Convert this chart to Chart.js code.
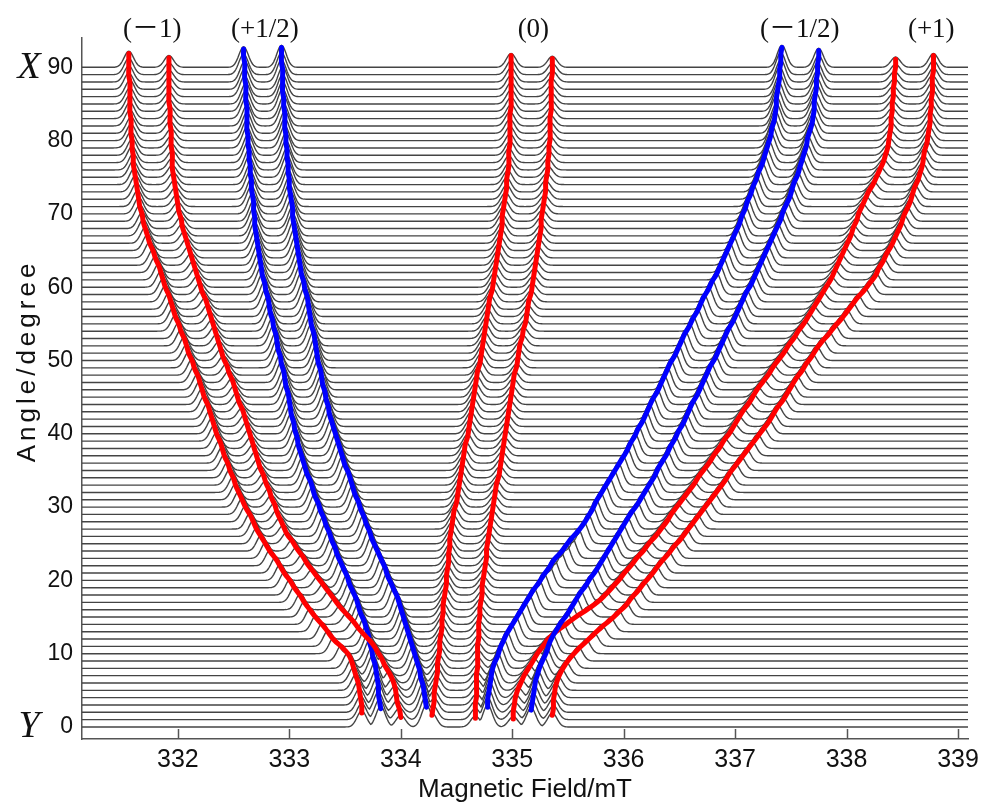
<!DOCTYPE html>
<html>
<head>
<meta charset="utf-8">
<title>Angular dependence of EPR spectra</title>
<script src="https://cdn.jsdelivr.net/npm/chart.js@4.4.1/dist/chart.umd.min.js"></script>
<style>
  html, body { margin: 0; padding: 0; background: #fff; }
  #wrap { width: 985px; height: 805px; }
</style>
</head>
<body>
<div id="wrap"><canvas id="chart" width="985" height="805"></canvas></div>
<script>
// axis ticks
const fieldTicks = [332, 333, 334, 335, 336, 337, 338, 339];
const angleTicks = [0, 10, 20, 30, 40, 50, 60, 70, 80, 90];

// one spectrum per degree
const angles = Array.from({ length: 91 }, (_, i) => i);

// peak positions (mT) for each angle 0..90
const posM1a = [
  333.65,333.65,333.64,333.63,333.62,333.60,333.58,333.56,333.53,333.47,
  333.40,333.35,333.30,333.24,333.19,333.14,333.10,333.05,333.01,332.96,
  332.92,332.88,332.83,332.79,332.75,332.71,332.68,332.65,332.61,332.58,
  332.55,332.52,332.50,332.47,332.45,332.42,332.40,332.38,332.35,332.33,
  332.31,332.29,332.27,332.24,332.22,332.20,332.18,332.15,332.13,332.10,
  332.08,332.06,332.03,332.01,331.98,331.96,331.94,331.92,331.89,331.87,
  331.85,331.83,331.80,331.78,331.75,331.73,331.71,331.69,331.68,331.66,
  331.65,331.64,331.63,331.62,331.61,331.60,331.60,331.59,331.59,331.58,
  331.58,331.58,331.57,331.57,331.57,331.57,331.57,331.56,331.56,331.56,
  331.56];
const posM1b = [
  334.00,333.99,333.97,333.96,333.95,333.93,333.90,333.86,333.83,333.79,
  333.75,333.69,333.63,333.58,333.52,333.46,333.41,333.36,333.31,333.26,
  333.21,333.16,333.12,333.07,333.03,332.98,332.95,332.92,332.89,332.87,
  332.84,332.82,332.79,332.77,332.74,332.72,332.70,332.68,332.66,332.64,
  332.62,332.60,332.58,332.55,332.53,332.51,332.49,332.46,332.44,332.41,
  332.39,332.37,332.35,332.33,332.31,332.29,332.27,332.25,332.22,332.20,
  332.18,332.16,332.14,332.12,332.10,332.08,332.06,332.04,332.03,332.01,
  332.00,331.99,331.98,331.97,331.96,331.95,331.95,331.95,331.94,331.94,
  331.94,331.93,331.93,331.93,331.92,331.92,331.92,331.92,331.92,331.92,
  331.92];
const posP12a = [
  333.82,333.81,333.80,333.80,333.79,333.78,333.77,333.75,333.74,333.72,
  333.71,333.69,333.67,333.64,333.62,333.60,333.57,333.54,333.52,333.49,
  333.46,333.43,333.41,333.38,333.36,333.33,333.31,333.28,333.26,333.23,
  333.21,333.19,333.16,333.14,333.12,333.10,333.08,333.07,333.05,333.04,
  333.02,333.01,333.00,332.99,332.97,332.96,332.95,332.93,332.92,332.90,
  332.89,332.88,332.86,332.85,332.83,332.82,332.81,332.79,332.78,332.76,
  332.75,332.74,332.73,332.72,332.71,332.70,332.69,332.69,332.68,332.68,
  332.67,332.66,332.66,332.65,332.65,332.64,332.64,332.63,332.63,332.62,
  332.62,332.62,332.62,332.61,332.61,332.61,332.60,332.60,332.60,332.59,
  332.59];
const posP12b = [
  334.23,334.22,334.21,334.20,334.18,334.17,334.15,334.13,334.11,334.09,
  334.07,334.05,334.03,334.01,333.99,333.97,333.94,333.91,333.88,333.86,
  333.83,333.80,333.77,333.74,333.72,333.69,333.67,333.64,333.62,333.59,
  333.57,333.55,333.53,333.50,333.48,333.46,333.44,333.42,333.40,333.38,
  333.36,333.35,333.33,333.32,333.30,333.29,333.28,333.26,333.25,333.24,
  333.23,333.22,333.20,333.19,333.18,333.17,333.16,333.14,333.13,333.11,
  333.10,333.09,333.08,333.07,333.06,333.05,333.04,333.03,333.03,333.02,
  333.01,333.00,333.00,332.99,332.99,332.98,332.98,332.97,332.97,332.96,
  332.96,332.96,332.95,332.95,332.94,332.94,332.94,332.94,332.93,332.93,
  332.93];
const pos0a = [
  334.28,334.29,334.30,334.30,334.31,334.32,334.33,334.33,334.34,334.35,
  334.35,334.36,334.37,334.37,334.38,334.38,334.39,334.40,334.41,334.41,
  334.42,334.43,334.43,334.44,334.44,334.45,334.46,334.47,334.48,334.50,
  334.51,334.52,334.53,334.54,334.55,334.56,334.57,334.58,334.60,334.61,
  334.62,334.63,334.64,334.65,334.66,334.67,334.68,334.69,334.71,334.72,
  334.73,334.74,334.75,334.76,334.77,334.78,334.79,334.80,334.82,334.83,
  334.84,334.85,334.86,334.87,334.88,334.89,334.90,334.91,334.91,334.92,
  334.93,334.94,334.95,334.95,334.96,334.97,334.97,334.97,334.98,334.98,
  334.98,334.98,334.98,334.99,334.99,334.99,334.99,334.99,334.99,334.99,
  334.99];
const pos0b = [
  334.67,334.67,334.67,334.68,334.68,334.68,334.68,334.69,334.69,334.69,
  334.69,334.70,334.70,334.70,334.71,334.71,334.72,334.73,334.73,334.74,
  334.75,334.76,334.77,334.77,334.78,334.79,334.80,334.81,334.82,334.83,
  334.84,334.85,334.86,334.88,334.89,334.90,334.91,334.92,334.93,334.94,
  334.95,334.96,334.97,334.98,334.99,335.00,335.01,335.02,335.04,335.05,
  335.06,335.07,335.09,335.10,335.12,335.13,335.14,335.15,335.17,335.18,
  335.19,335.20,335.21,335.22,335.23,335.24,335.25,335.26,335.26,335.27,
  335.28,335.29,335.30,335.30,335.31,335.32,335.32,335.33,335.33,335.34,
  335.34,335.34,335.34,335.35,335.35,335.35,335.35,335.35,335.36,335.36,
  335.36];
const posM12a = [
  334.78,334.78,334.79,334.80,334.81,334.82,334.84,334.87,334.89,334.92,
  334.95,334.99,335.03,335.07,335.11,335.15,335.19,335.24,335.28,335.33,
  335.37,335.43,335.48,335.53,335.59,335.64,335.68,335.72,335.75,335.79,
  335.83,335.87,335.91,335.95,335.99,336.03,336.06,336.10,336.13,336.17,
  336.20,336.23,336.26,336.30,336.33,336.36,336.39,336.42,336.46,336.49,
  336.52,336.55,336.59,336.62,336.66,336.69,336.72,336.76,336.79,336.83,
  336.86,336.89,336.92,336.95,336.98,337.01,337.04,337.06,337.09,337.11,
  337.14,337.16,337.19,337.21,337.24,337.26,337.28,337.30,337.32,337.33,
  337.35,337.36,337.37,337.37,337.38,337.39,337.40,337.40,337.41,337.41,
  337.42];
const posM12b = [
  335.17,335.18,335.19,335.20,335.21,335.23,335.25,335.28,335.31,335.33,
  335.36,335.40,335.44,335.49,335.53,335.57,335.61,335.66,335.70,335.75,
  335.79,335.83,335.87,335.91,335.95,335.99,336.03,336.07,336.12,336.16,
  336.20,336.24,336.28,336.31,336.35,336.39,336.42,336.46,336.49,336.53,
  336.56,336.59,336.62,336.66,336.69,336.72,336.75,336.78,336.82,336.85,
  336.88,336.91,336.94,336.98,337.01,337.04,337.07,337.10,337.14,337.17,
  337.20,337.23,337.26,337.29,337.32,337.35,337.38,337.41,337.43,337.46,
  337.49,337.51,337.53,337.56,337.58,337.60,337.62,337.64,337.65,337.67,
  337.69,337.70,337.71,337.71,337.72,337.73,337.73,337.74,337.74,337.75,
  337.75];
const posP1a = [
  335.01,335.01,335.02,335.03,335.05,335.08,335.11,335.15,335.19,335.23,
  335.28,335.33,335.40,335.49,335.58,335.68,335.77,335.84,335.90,335.96,
  336.01,336.07,336.12,336.18,336.23,336.29,336.34,336.39,336.43,336.48,
  336.53,336.58,336.63,336.67,336.72,336.77,336.81,336.86,336.90,336.95,
  336.99,337.03,337.07,337.12,337.16,337.20,337.25,337.30,337.34,337.39,
  337.44,337.48,337.53,337.57,337.62,337.66,337.70,337.74,337.78,337.82,
  337.86,337.89,337.92,337.95,337.98,338.01,338.04,338.06,338.09,338.11,
  338.14,338.17,338.20,338.24,338.27,338.30,338.33,338.35,338.37,338.38,
  338.39,338.40,338.40,338.41,338.41,338.42,338.42,338.43,338.43,338.44,
  338.44];
const posP1b = [
  335.36,335.37,335.37,335.38,335.39,335.41,335.44,335.48,335.53,335.59,
  335.66,335.73,335.80,335.88,335.95,336.02,336.07,336.13,336.18,336.24,
  336.29,336.34,336.40,336.45,336.51,336.56,336.61,336.66,336.71,336.76,
  336.81,336.86,336.91,336.95,337.00,337.05,337.10,337.15,337.20,337.25,
  337.30,337.34,337.38,337.43,337.47,337.51,337.55,337.60,337.64,337.69,
  337.73,337.78,337.84,337.89,337.95,338.00,338.05,338.10,338.16,338.21,
  338.26,338.29,338.33,338.36,338.40,338.43,338.46,338.49,338.51,338.54,
  338.57,338.59,338.61,338.64,338.66,338.68,338.69,338.70,338.72,338.73,
  338.74,338.75,338.75,338.76,338.76,338.77,338.77,338.77,338.78,338.78,
  338.78];

const peakLines = [posM1a, posM1b, posP12a, posP12b, pos0a, pos0b, posM12a, posM12b, posP1a, posP1b];
// peak heights in units of the angle axis
const peakHeights = [2.2, 1.6, 2.8, 3.0, 1.9, 1.5, 3.0, 2.6, 1.4, 1.9];
const peakGroups = ['red', 'red', 'blue', 'blue', 'red', 'red', 'blue', 'blue', 'red', 'red'];

const groupLabels = ['(－1)', '(+1/2)', '(0)', '(－1/2)', '(+1)'];
const groupLabelFields = [331.77, 332.78, 335.19, 337.58, 338.76];

// scale bounds and line shape
const xMin = 331.14, xMax = 339.09, yMin = -1.64, yMax = 94;
const sigma = 0.042;
const step = 0.01;
const traceDrop = 0.3; // trace sits a little below the peak tips so it covers them

function buildSpectrum(i) {
  const pts = [];
  const n = Math.round((xMax - xMin) / step);
  for (let k = 0; k <= n; k++) {
    const b = xMin + k * step;
    let top = 0;
    for (let j = 0; j < peakLines.length; j++) {
      const d = (b - peakLines[j][i]) / sigma;
      const v = peakHeights[j] * Math.exp(-0.5 * d * d);
      if (v > top) top = v;
    }
    pts.push({ x: b, y: angles[i] + top });
  }
  return pts;
}

const datasets = [];
peakLines.forEach(function(pos, j) {
  datasets.push({
    data: angles.map(function(a, i) { return { x: pos[i], y: a + peakHeights[j] - traceDrop }; }),
    borderColor: peakGroups[j] === 'red' ? '#ff0000' : '#0000ff',
    borderWidth: 5,
    borderJoinStyle: 'round',
    borderCapStyle: 'round',
    pointRadius: 0,
    tension: 0.5,
    order: 0
  });
});
angles.forEach(function(a, i) {
  datasets.push({
    data: buildSpectrum(i),
    borderColor: '#444',
    borderWidth: 1.4,
    pointRadius: 0,
    tension: 0,
    order: 1
  });
});

const decorPlugin = {
  id: 'decor',
  afterDraw(chart) {
    const c = chart.ctx;
    const xs = chart.scales.x, ys = chart.scales.y;
    const area = chart.chartArea;
    c.save();
    // inward ticks on the field axis
    c.strokeStyle = '#555';
    c.lineWidth = 1.5;
    fieldTicks.forEach(function(v) {
      const px = Math.round(xs.getPixelForValue(v)) + 0.5;
      c.beginPath();
      c.moveTo(px, area.bottom);
      c.lineTo(px, area.bottom - 10);
      c.stroke();
    });
    // group labels on top
    c.fillStyle = '#111';
    c.font = '27px "Liberation Serif", "Noto Sans CJK JP", serif';
    c.textAlign = 'center';
    c.textBaseline = 'middle';
    groupLabels.forEach(function(t, i) {
      c.fillText(t, xs.getPixelForValue(groupLabelFields[i]), 30);
    });
    // X / Y direction markers
    c.font = 'italic 38px "Liberation Serif", serif';
    c.textBaseline = 'alphabetic';
    c.fillText('X', 29, ys.getPixelForValue(90) + 11);
    c.fillText('Y', 29, ys.getPixelForValue(0) + 10);
    // axis titles
    c.font = '26px "Liberation Sans", sans-serif';
    c.textBaseline = 'middle';
    c.fillText('Magnetic Field/mT', (area.left + area.right) / 2, 790);
    c.translate(28, 363);
    c.rotate(-Math.PI / 2);
    c.letterSpacing = '4px';
    c.fillText('Angle/degree', 2, 0);
    c.restore();
  }
};

new Chart(document.getElementById('chart'), {
  type: 'line',
  data: { datasets: datasets },
  options: {
    responsive: false,
    animation: false,
    parsing: false,
    normalized: true,
    events: [],
    layout: { padding: { top: 38, right: 13, left: 0, bottom: 0 } },
    plugins: { legend: { display: false }, tooltip: { enabled: false } },
    scales: {
      x: {
        type: 'linear',
        min: xMin,
        max: xMax,
        afterFit: function(scale) { scale.height = 66; },
        afterBuildTicks: function(scale) { scale.ticks = fieldTicks.map(function(v) { return { value: v }; }); },
        grid: { display: false, drawTicks: false },
        border: { display: true, color: '#555', width: 1.5 },
        ticks: { color: '#111', padding: 6, maxRotation: 0, autoSkip: false, font: { family: 'Liberation Sans', size: 25 } }
      },
      y: {
        type: 'linear',
        min: yMin,
        max: yMax,
        afterFit: function(scale) { scale.width = 82; },
        afterBuildTicks: function(scale) { scale.ticks = angleTicks.map(function(v) { return { value: v }; }); },
        grid: { display: false, drawTicks: false },
        border: { display: true, color: '#555', width: 1.5 },
        ticks: { color: '#111', padding: 9, autoSkip: false, font: { family: 'Liberation Sans', size: 23 } }
      }
    }
  },
  plugins: [decorPlugin]
});
</script>
</body>
</html>
